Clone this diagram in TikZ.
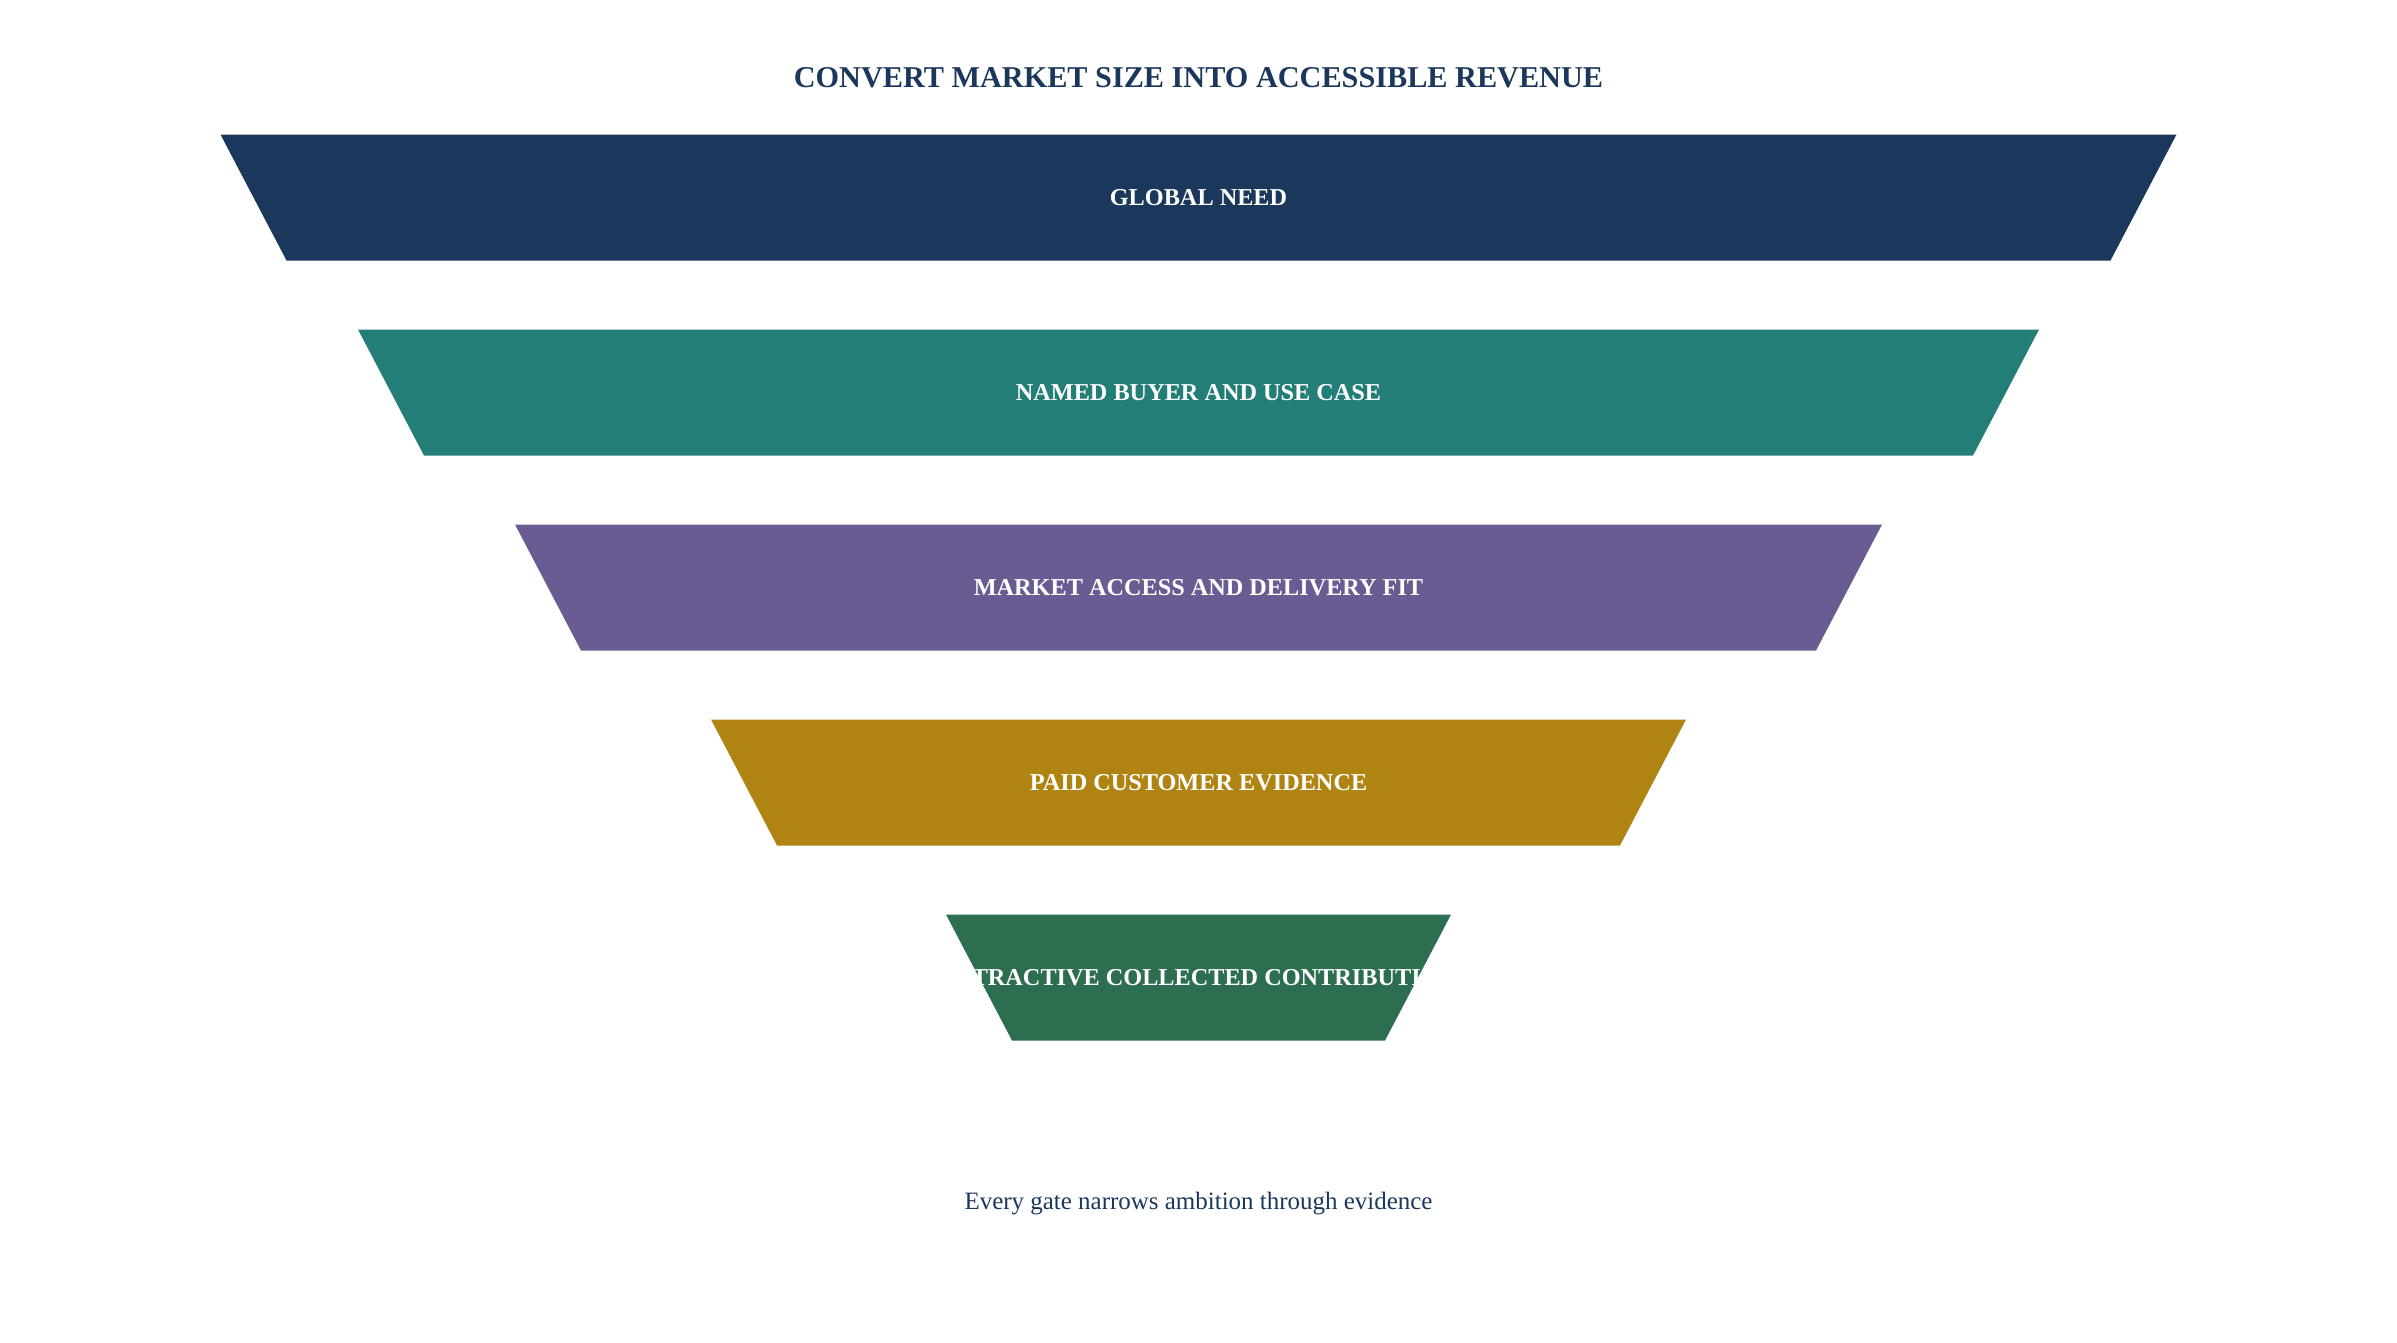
\documentclass[tikz,border=0pt]{standalone}
\usepackage{xcolor}
\usepackage{fontspec}
\setmainfont{Liberation Serif}
\usepackage{tikz}
\usetikzlibrary{positioning}
\definecolor{gateNavy}{HTML}{1B385C}
\definecolor{gateTeal}{HTML}{247E78}
\definecolor{gatePurple}{HTML}{6B5B93}
\definecolor{gateGold}{HTML}{B08412}
\definecolor{gateGreen}{HTML}{2E6E50}
% #1 name, #2 top edge, #3 half width at top, #4 colour, #5 label
\newcommand*{\gate}[5]{%
  \fill [#4] (1198.5-#3,#2) -- (1198.5+#3,#2)
    -- (1198.5+#3-66,#2+126) -- (1198.5-#3+66,#2+126) -- cycle;
  \node [gate label] (#1) at (1198.5,#2+63) {#5};
}

\begin{document}
\begin{tikzpicture}[x=0.01cm, y=-0.01cm,
    gate label/.style = {text=white, inner sep=0pt,
      font=\bfseries\fontsize{6.9}{8}\selectfont},
    title/.style = {text=gateNavy, inner sep=0pt, anchor=base,
      font=\bfseries\fontsize{8.6}{10}\selectfont},
    note/.style = {text=gateNavy, inner sep=0pt, anchor=base,
      font=\fontsize{7.1}{9}\selectfont}]
  \useasboundingbox (0,0) rectangle (2397,1342);
  \node [title] (heading) at (1198.5,87) {CONVERT MARKET SIZE INTO ACCESSIBLE REVENUE};
  \gate{need}{134.5}{978}{gateNavy}{GLOBAL NEED}
  \gate{buyer}{329.5}{840.5}{gateTeal}{NAMED BUYER AND USE CASE}
  \gate{access}{524.5}{683.5}{gatePurple}{MARKET ACCESS AND DELIVERY FIT}
  \gate{paid}{719.5}{487.5}{gateGold}{PAID CUSTOMER EVIDENCE}
  \gate{contrib}{914.5}{252.5}{gateGreen}{ATTRACTIVE COLLECTED CONTRIBUTION}
  \node [note] (footer) at (1198.5,1209) {Every gate narrows ambition through evidence};
\end{tikzpicture}
\end{document}
